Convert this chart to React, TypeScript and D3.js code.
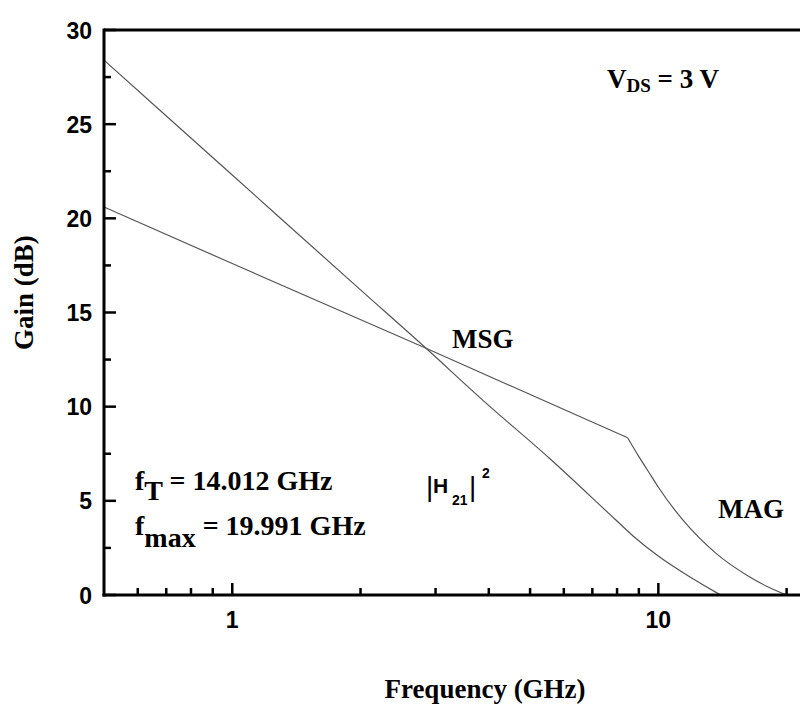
import React from "react";
import * as d3 from "d3";

// ---- data (frequency in GHz, gain in dB) ----
const h21Freq = [0.5, 1, 2, 2.85, 3.87, 5.55, 7.95, 8.71, 10.05, 12.0, 13.66, 14.01];
const h21Gain = [28.4, 22.3, 16.2, 13.1, 10.35, 7.26, 3.98, 3.15, 2.03, 0.89, 0.14, 0.0];

const msgFreq = [0.5, 1, 2.85, 8.47];
const msgGain = [20.6, 17.6, 13.1, 8.35];

const magFreq = [8.47, 9.0, 9.45, 10.0, 11.4, 13.66, 16.35, 18.0, 19.99];
const magGain = [8.35, 7.35, 6.6, 5.72, 4.0, 2.21, 0.97, 0.45, 0.0];

const yMajorTicks = [0, 5, 10, 15, 20, 25, 30];
const yMinorTicks = [2.5, 7.5, 12.5, 17.5, 22.5, 27.5];
const xMajorTicks = [1, 10];
const xMinorTicks = [0.6, 0.7, 0.8, 0.9, 2, 3, 4, 5, 6, 7, 8, 9, 20];

const W = 800;
const H = 707;
const L = 104;
const T = 30;
const B = 595;
const R = 800;

export default function App() {
  const x = d3.scaleLog().domain([0.5, 21.5]).range([L, R]);
  const y = d3.scaleLinear().domain([0, 30]).range([B, T]);
  const smooth = d3
    .line<[number, number]>()
    .x((d) => x(d[0]))
    .y((d) => y(d[1]))
    .curve(d3.curveMonotoneX);
  const straight = d3
    .line<[number, number]>()
    .x((d) => x(d[0]))
    .y((d) => y(d[1]));

  const h21 = h21Freq.map((f, i) => [f, h21Gain[i]] as [number, number]);
  const msg = msgFreq.map((f, i) => [f, msgGain[i]] as [number, number]);
  const mag = magFreq.map((f, i) => [f, magGain[i]] as [number, number]);

  const sans = "'Liberation Sans', Arial, sans-serif";
  const serif = "'Liberation Serif', 'Times New Roman', serif";
  const lineColor = "#555";

  return (
    <svg
      width={W}
      height={H}
      style={{ position: "absolute", left: 0, top: 0, background: "#fff" }}
    >
      <rect width={W} height={H} fill="#fff" />
      {/* curves */}
      <path d={smooth(h21) || ""} fill="none" stroke={lineColor} strokeWidth={1.2} />
      <path d={straight(msg) || ""} fill="none" stroke={lineColor} strokeWidth={1.2} />
      <path d={smooth(mag) || ""} fill="none" stroke={lineColor} strokeWidth={1.2} />

      {/* axes frame */}
      <line x1={L} y1={T} x2={R} y2={T} stroke="#000" strokeWidth={3} />
      <line x1={L} y1={T - 1.5} x2={L} y2={B + 1.5} stroke="#000" strokeWidth={3} />
      <line x1={L - 1.5} y1={B} x2={R} y2={B} stroke="#000" strokeWidth={3} />

      {/* y ticks */}
      {yMajorTicks.map((v) => (
        <g key={"ym" + v}>
          <line x1={L} x2={L + 12} y1={y(v)} y2={y(v)} stroke="#000" strokeWidth={2.5} />
          <text
            x={92}
            y={y(v) + 8.5}
            textAnchor="end"
            fontFamily={sans}
            fontWeight="bold"
            fontSize={23}
          >
            {v}
          </text>
        </g>
      ))}
      {yMinorTicks.map((v) => (
        <line key={"yn" + v} x1={L} x2={L + 7} y1={y(v)} y2={y(v)} stroke="#000" strokeWidth={2.5} />
      ))}

      {/* x ticks */}
      {xMajorTicks.map((v) => (
        <g key={"xm" + v}>
          <line x1={x(v)} x2={x(v)} y1={B} y2={B - 12} stroke="#000" strokeWidth={2.5} />
          <text
            x={x(v)}
            y={628}
            textAnchor="middle"
            fontFamily={sans}
            fontWeight="bold"
            fontSize={23}
          >
            {v}
          </text>
        </g>
      ))}
      {xMinorTicks.map((v) => (
        <line key={"xn" + v} x1={x(v)} x2={x(v)} y1={B} y2={B - 7} stroke="#000" strokeWidth={2.5} />
      ))}

      {/* axis titles */}
      <text
        x={485}
        y={698}
        textAnchor="middle"
        fontFamily={serif}
        fontWeight="bold"
        fontSize={27}
      >
        Frequency (GHz)
      </text>
      <text
        transform="translate(33,350) rotate(-90)"
        textAnchor="start"
        fontFamily={serif}
        fontWeight="bold"
        fontSize={27}
      >
        Gain (dB)
      </text>

      {/* annotations */}
      <text x={607} y={88} fontFamily={serif} fontWeight="bold" fontSize={27}>
        V<tspan fontSize={19} dy={4}>DS</tspan>
        <tspan dy={-4}> = 3 V</tspan>
      </text>
      <text x={452} y={348} fontFamily={serif} fontWeight="bold" fontSize={27}>
        MSG
      </text>
      <text x={718} y={518} fontFamily={serif} fontWeight="bold" fontSize={27}>
        MAG
      </text>
      <text x={135} y={490} fontFamily={serif} fontWeight="bold" fontSize={28}>
        f<tspan dy={10}>T</tspan>
        <tspan dy={-10}> = 14.012 GHz</tspan>
      </text>
      <text x={135} y={535} fontFamily={serif} fontWeight="bold" fontSize={28}>
        f<tspan dy={12}>max</tspan>
        <tspan dy={-12}> = 19.991 GHz</tspan>
      </text>
      <g fontFamily={sans}>
        <text x={426} y={496} fontSize={28}>|</text>
        <text x={433} y={493} fontSize={21} fontWeight="bold">H</text>
        <text x={452} y={505} fontSize={14} fontWeight="bold">21</text>
        <text x={469} y={496} fontSize={28}>|</text>
        <text x={482} y={478} fontSize={14} fontWeight="bold">2</text>
      </g>
    </svg>
  );
}
